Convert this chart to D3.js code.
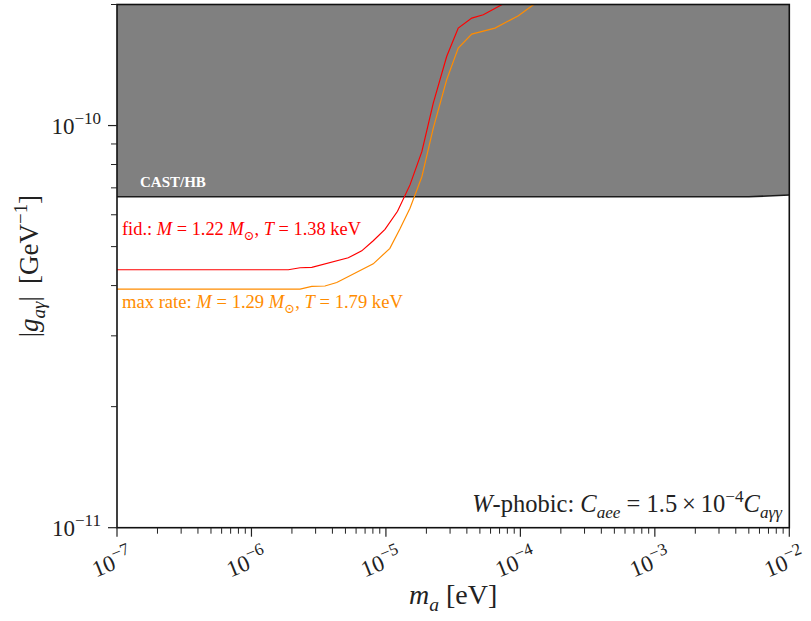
<!DOCTYPE html>
<html>
<head>
<meta charset="utf-8">
<script src="https://cdn.jsdelivr.net/npm/d3@7"></script>
<style>
  body { margin: 0; background: #fff; }
  svg text { font-family: "Liberation Serif", "DejaVu Serif", serif; }
</style>
</head>
<body>
<svg id="chart" width="811" height="621"></svg>
<script>
// Axion mass grid (eV) and photon-coupling limits (GeV^-1)
const massFid = [1e-7, 1.88e-6, 2.30e-6, 2.81e-6, 5.25e-6, 6.61e-6, 8.05e-6, 9.84e-6, 1.22e-5, 1.51e-5,
                 1.85e-5, 2.25e-5, 2.83e-5, 3.45e-5, 4.35e-5, 5.30e-5, 7.26e-5, 8.38e-5];
const gFid = [4.38e-11, 4.38e-11, 4.43e-11, 4.44e-11, 4.69e-11, 4.88e-11, 5.17e-11, 5.52e-11, 6.12e-11, 7.12e-11,
              8.61e-11, 1.137e-10, 1.485e-10, 1.747e-10, 1.85e-10, 1.886e-10, 1.996e-10, 2.07e-10];

const massMax = [1e-7, 2.30e-6, 2.81e-6, 3.52e-6, 4.31e-6, 8.05e-6, 1.07e-5, 1.27e-5, 1.51e-5, 1.85e-5,
                 2.25e-5, 2.83e-5, 3.45e-5, 4.35e-5, 6.47e-5, 9.66e-5, 1.25e-4, 1.40e-4];
const gMax = [3.92e-11, 3.92e-11, 3.98e-11, 3.99e-11, 4.07e-11, 4.53e-11, 4.95e-11, 5.53e-11, 6.23e-11, 7.46e-11,
              9.85e-11, 1.30e-10, 1.558e-10, 1.688e-10, 1.747e-10, 1.875e-10, 1.996e-10, 2.055e-10];

// CAST / horizontal-branch bound
const massCast = [1e-7, 5e-3, 1e-2];
const gCast = [6.65e-11, 6.65e-11, 6.72e-11];

const xDomain = [1e-7, 1e-2];
const yDomain = [1e-11, 2e-10];
const xMajor = [1e-7, 1e-6, 1e-5, 1e-4, 1e-3, 1e-2];
const xMajorExp = ["−7", "−6", "−5", "−4", "−3", "−2"];
const yMajor = [1e-11, 1e-10];
const yMajorExp = ["−11", "−10"];

const W = 811, H = 621;
const margin = {left: 117, top: 4.5, right: 21.7, bottom: 93.3};
const svg = d3.select("#chart");

const x = d3.scaleLog().domain(xDomain).range([margin.left, W - margin.right]);
const y = d3.scaleLog().domain(yDomain).range([H - margin.bottom, margin.top]);

svg.append("defs").append("clipPath").attr("id", "plotclip")
  .append("rect")
  .attr("x", margin.left).attr("y", margin.top)
  .attr("width", W - margin.left - margin.right)
  .attr("height", H - margin.top - margin.bottom);

const plot = svg.append("g").attr("clip-path", "url(#plotclip)");

// excluded region above CAST/HB
const castPts = massCast.map((m, i) => [m, gCast[i]]);
const area = d3.area().x(d => x(d[0])).y0(y(yDomain[1]) - 2).y1(d => y(d[1]));
plot.append("path").datum(castPts).attr("d", area).attr("fill", "#808080");
const line = d3.line().x(d => x(d[0])).y(d => y(d[1]));
plot.append("path").datum(castPts).attr("d", line)
  .attr("fill", "none").attr("stroke", "#1a1a1a").attr("stroke-width", 1.6);

// sensitivity curves
plot.append("path").datum(massMax.map((m, i) => [m, gMax[i]])).attr("d", line)
  .attr("fill", "none").attr("stroke", "#ff8c00").attr("stroke-width", 1.2);
plot.append("path").datum(massFid.map((m, i) => [m, gFid[i]])).attr("d", line)
  .attr("fill", "none").attr("stroke", "#ff0000").attr("stroke-width", 1.2);

// rich text helper: segments {t, i (italic), sub, sup}
function rich(sel, segs, size, scriptRatio = 0.7) {
  sel.attr("font-size", size);
  let shift = 0;
  segs.forEach(s => {
    const target = s.sub ? size * 0.25 : s.sup ? -size * 0.42 : 0;
    const ts = sel.append("tspan").text(s.t)
      .attr("dy", target - shift)
      .attr("font-size", (s.sub || s.sup) ? size * scriptRatio : size);
    if (s.i) ts.attr("font-style", "italic");
    shift = target;
  });
  return sel;
}

// frame
const frame = svg.append("g");
frame.append("rect")
  .attr("x", margin.left).attr("y", margin.top)
  .attr("width", W - margin.left - margin.right)
  .attr("height", H - margin.top - margin.bottom)
  .attr("fill", "none").attr("stroke", "#111").attr("stroke-width", 1.6);

// x ticks
const xMinor = [];
for (let e = -7; e < -2; e++) for (let k = 2; k <= 9; k++) xMinor.push(k * Math.pow(10, e));
const yB = H - margin.bottom;
frame.selectAll(".xmin").data(xMinor).join("line")
  .attr("x1", d => x(d)).attr("x2", d => x(d)).attr("y1", yB).attr("y2", yB + 6)
  .attr("stroke", "#222").attr("stroke-width", 1);
frame.selectAll(".xmaj").data(xMajor).join("line")
  .attr("x1", d => x(d)).attr("x2", d => x(d)).attr("y1", yB).attr("y2", yB + 9)
  .attr("stroke", "#222").attr("stroke-width", 1.2);
xMajor.forEach((d, i) => {
  const t = svg.append("text")
    .attr("transform", `translate(${x(d) - 2},${yB + 42}) rotate(-22)`)
    .attr("text-anchor", "middle").attr("fill", "#222");
  rich(t, [{t: "10"}, {t: xMajorExp[i], sup: true}], 23, 0.74);
});

// y ticks
const yMinor = [];
for (let k = 2; k <= 9; k++) yMinor.push(k * 1e-11);
yMinor.push(2e-10);
const xL = margin.left;
frame.selectAll(".ymin").data(yMinor).join("line")
  .attr("x1", xL - 6).attr("x2", xL).attr("y1", d => y(d)).attr("y2", d => y(d))
  .attr("stroke", "#222").attr("stroke-width", 1);
frame.selectAll(".ymaj").data(yMajor).join("line")
  .attr("x1", xL - 9).attr("x2", xL).attr("y1", d => y(d)).attr("y2", d => y(d))
  .attr("stroke", "#222").attr("stroke-width", 1.2);
yMajor.forEach((d, i) => {
  const t = svg.append("text")
    .attr("x", xL - 16).attr("y", y(d) + 8)
    .attr("text-anchor", "end").attr("fill", "#222");
  rich(t, [{t: "10"}, {t: yMajorExp[i], sup: true}], 23, 0.74);
});

// axis titles
const xt = svg.append("text").attr("x", (margin.left + W - margin.right) / 2).attr("y", 604)
  .attr("text-anchor", "middle").attr("fill", "#222");
rich(xt, [{t: "m", i: true}, {t: "a", i: true, sub: true}, {t: " [eV]"}], 28);

const yt = svg.append("text")
  .attr("transform", `translate(38,${(margin.top + H - margin.bottom) / 2}) rotate(-90)`)
  .attr("text-anchor", "middle").attr("fill", "#222");
rich(yt, [{t: "|"}, {t: "g", i: true}, {t: "aγ", i: true, sub: true}, {t: "|\u2009 [GeV"}, {t: "−1", sup: true}, {t: "]"}], 27);

// labels
svg.append("text").attr("x", 140).attr("y", 187)
  .attr("fill", "#fff").attr("font-weight", "bold").attr("font-size", 15)
  .text("CAST/HB");

const tf = svg.append("text").attr("x", 122).attr("y", 235).attr("fill", "#ff0000");
rich(tf, [{t: "fid.: "}, {t: "M", i: true}, {t: " = 1.22 "}, {t: "M", i: true}, {t: "⊙", sub: true},
          {t: ", "}, {t: "T", i: true}, {t: " = 1.38 keV"}], 18.4);

const tm = svg.append("text").attr("x", 122).attr("y", 308).attr("fill", "#ff8c00");
rich(tm, [{t: "max rate: "}, {t: "M", i: true}, {t: " = 1.29 "}, {t: "M", i: true}, {t: "⊙", sub: true},
          {t: ", "}, {t: "T", i: true}, {t: " = 1.79 keV"}], 18.6);

const tw = svg.append("text").attr("x", 782).attr("y", 512).attr("text-anchor", "end").attr("fill", "#222");
rich(tw, [{t: "W", i: true}, {t: "-phobic: "}, {t: "C", i: true}, {t: "aee", i: true, sub: true},
          {t: " = 1.5\u2009×\u200910"}, {t: "−4", sup: true}, {t: "C", i: true}, {t: "aγγ", i: true, sub: true}], 24.5);
</script>
</body>
</html>
